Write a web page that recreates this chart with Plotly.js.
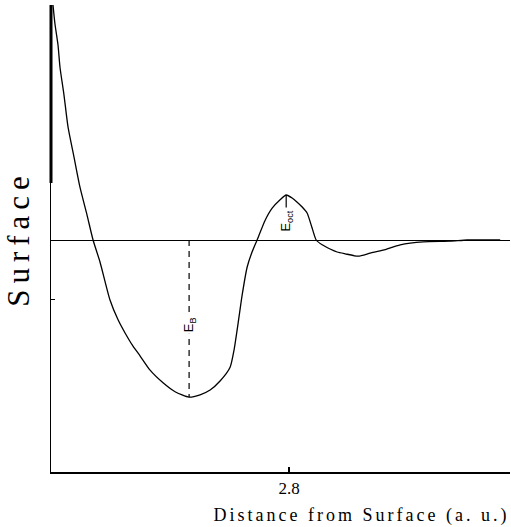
<!DOCTYPE html>
<html>
<head>
<meta charset="utf-8">
<script src="https://cdn.plot.ly/plotly-3.0.1.min.js"></script>
<style>html,body{margin:0;padding:0;background:#fff;}#chart{width:511px;height:527px;}</style>
</head>
<body>
<div id="chart"></div>
<script>
// Energy curve vs distance from surface (arbitrary units)
const distance = [1.015,1.030,1.053,1.068,1.098,1.129,1.174,1.219,1.272,1.318,1.371,1.446,1.507,1.560,1.620,1.673,1.749,1.847,1.938,2.044,2.127,2.203,2.278,2.354,2.384,2.415,2.445,2.483,2.520,2.558,2.619,2.672,2.732,2.778,2.823,2.861,2.899,2.936,2.974,3.005,3.050,3.110,3.163,3.224,3.322,3.413,3.511,3.640,3.814,4.018,4.147,4.396];
const energy = [3.92,3.60,3.25,2.88,2.42,1.88,1.38,0.88,0.42,0.00,-0.37,-1.00,-1.33,-1.55,-1.77,-1.93,-2.17,-2.38,-2.53,-2.62,-2.58,-2.50,-2.35,-2.12,-1.83,-1.38,-0.92,-0.45,-0.20,0.00,0.33,0.53,0.67,0.75,0.70,0.63,0.55,0.45,0.20,0.00,-0.08,-0.15,-0.20,-0.23,-0.27,-0.22,-0.17,-0.08,-0.03,-0.02,0.00,0.00];
const xTickVals = [2.8];
const xTickText = ['2.8'];
const yTickVals = [-1];
const labelEB = 'E<sub>B</sub>';
const labelEoct = 'E<sub>oct</sub>';
const xTitle = 'Distance from Surface (a. u.)';
const yTitle = 'Surface';

// Positions of minimum (E_B) and barrier top (E_oct) taken from the data
let iMin = 0;
energy.forEach((v, i) => { if (v < energy[iMin]) iMin = i; });
let iMax = 0, best = -Infinity;
for (let i = 0; i < energy.length; i++) { if (distance[i] > 2.5 && energy[i] > best) { best = energy[i]; iMax = i; } }
const xB = distance[iMin], yB = energy[iMin];
const xO = distance[iMax], yO = energy[iMax];

const traces = [
  {x: distance, y: energy, mode: 'lines', line: {color: '#000', width: 1.3, shape: 'spline', smoothing: 0.6}, hoverinfo: 'skip'},
  {x: [xB, xB], y: [0, yB], mode: 'lines', line: {color: '#000', width: 1.2, dash: '6px,5px'}, hoverinfo: 'skip'},
  {x: [xO, xO], y: [yO, yO * 0.72], mode: 'lines', line: {color: '#000', width: 1.2}, hoverinfo: 'skip'}
];

const layout = {
  width: 511, height: 527,
  margin: {l: 51, r: 1, t: 5, b: 55},
  paper_bgcolor: '#fff', plot_bgcolor: '#fff',
  showlegend: false,
  font: {family: 'Liberation Serif, serif', color: '#000'},
  xaxis: {
    range: [1.0, 4.47], showgrid: false, zeroline: false,
    showline: true, linecolor: '#000', linewidth: 2,
    tickmode: 'array', tickvals: xTickVals, ticktext: xTickText,
    ticks: 'inside', ticklen: 5, tickwidth: 2, tickcolor: '#000',
    tickfont: {family: 'Liberation Serif, serif', size: 17, color: '#000'}
  },
  yaxis: {
    range: [-3.867, 3.917], showgrid: false,
    zeroline: true, zerolinecolor: '#000', zerolinewidth: 1,
    showline: true, linecolor: '#000', linewidth: 1,
    tickmode: 'array', tickvals: yTickVals, showticklabels: false,
    ticks: 'inside', ticklen: 4, tickwidth: 1, tickcolor: '#000',
    title: {text: yTitle, font: {family: 'Liberation Serif, serif', size: 31, color: '#000'}, standoff: 11}
  },
  shapes: [
    {type: 'line', xref: 'paper', yref: 'y', x0: 0, x1: 0, y0: 0.95, y1: 3.917, line: {color: '#000', width: 3}}
  ],
  annotations: [
    {x: xB, y: -1.42, xref: 'x', yref: 'y', text: labelEB, showarrow: false, textangle: -90,
     bgcolor: '#fff', borderpad: 1, font: {family: 'Liberation Sans, Arial, sans-serif', size: 13, color: '#000'}},
    {x: xO, y: 0.31, xref: 'x', yref: 'y', text: labelEoct, showarrow: false, textangle: -90,
     bgcolor: '#fff', borderpad: 0, font: {family: 'Liberation Sans, Arial, sans-serif', size: 13, color: '#000'}},
    {x: (361 - 51) / 459, y: (472 - 515) / 467, xref: 'paper', yref: 'paper', xanchor: 'center', yanchor: 'middle',
     text: xTitle, showarrow: false,
     font: {family: 'Liberation Serif, serif', size: 18, color: '#000'}}
  ]
};

function spaceText() {
  const yt = document.querySelector('.ytitle');
  if (yt) yt.style.letterSpacing = '6px';
  document.querySelectorAll('.annotation-text').forEach(a => {
    if (a.textContent.indexOf('Distance') === 0) a.style.letterSpacing = '3px';
  });
}
Plotly.newPlot('chart', traces, layout, {displayModeBar: false, staticPlot: true}).then(spaceText);
</script>
</body>
</html>
